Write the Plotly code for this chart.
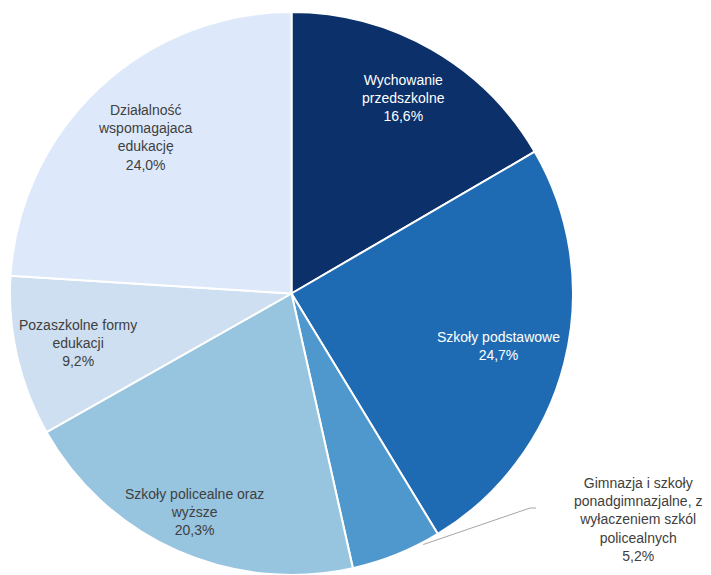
import math
import plotly.graph_objects as go

labels = ["Wychowanie<br>przedszkolne", "Szkoły podstawowe",
          "Gimnazja i szkoły<br>ponadgimnazjalne, z<br>wyłaczeniem szkól<br>policealnych",
          "Szkoły policealne oraz<br>wyższe", "Pozaszkolne formy<br>edukacji",
          "Działalność<br>wspomagajaca<br>edukację"]
values = [16.6, 24.7, 5.2, 20.3, 9.2, 24.0]
colors = ["#0b306a", "#1f6bb3", "#4f98cd", "#97c4df", "#cddff0", "#dde9fb"]
text_colors = ["white", "white", "#404040", "#404040", "#404040", "#404040"]

# label placement (radius fraction per slice; None -> outside label)
label_radius = [0.80, 0.76, None, 0.85, 0.78, 0.76]

OFF = 8  # page body margin
W, H = 711 - OFF, 575 - OFF
x0, x1 = 10 - OFF, 573 - OFF
y_top = 12 - OFF
R = (x1 - x0) / 2
cx = (x0 + x1) / 2
cy = y_top + R

fig = go.Figure(go.Pie(
    values=values, labels=labels, sort=False, direction="clockwise", rotation=0,
    marker=dict(colors=colors, line=dict(color="white", width=2)),
    textinfo="none", hoverinfo="label+percent", showlegend=False,
    domain=dict(x=[x0 / W, x1 / W], y=[(H - y_top - 2 * R) / H, 1 - y_top / H]),
))

def fmt(v):
    return f"{v:.1f}".replace(".", ",") + "%"

def px(x, y):
    return (x - OFF) / W, 1 - (y - OFF) / H

total = sum(values)
cum = 0
annotations = []
shapes = []
font_family = "Liberation Sans"
for i, v in enumerate(values):
    mid = (cum + v / 2) / total * 2 * math.pi
    cum += v
    txt = labels[i] + "<br>" + fmt(v)
    if label_radius[i] is None:
        lx, ly = px(638, 519)
        annotations.append(dict(x=lx, y=ly, xref="paper", yref="paper",
                                xanchor="center", yanchor="middle",
                                text=txt, showarrow=False, align="center",
                                font=dict(color=text_colors[i], size=14, family=font_family)))
        a = mid - 0.1
        sx = cx + (R + 2) * math.sin(a)
        sy = cy - (R + 2) * math.cos(a)
        ex, ey = px(530, 508)
        fx, fy = px(536, 508)
        shapes.append(dict(type="path", xref="paper", yref="paper",
                           path=f"M {sx / W} {1 - sy / H} L {ex} {ey} L {fx} {fy}",
                           line=dict(color="#a6a6a6", width=1)))
    else:
        r = label_radius[i] * R
        lx = cx + r * math.sin(mid)
        ly = cy - r * math.cos(mid)
        annotations.append(dict(x=lx / W, y=1 - ly / H, xref="paper", yref="paper",
                                xanchor="center", yanchor="middle",
                                text=txt, showarrow=False, align="center",
                                font=dict(color=text_colors[i], size=14, family=font_family)))

fig.update_layout(width=W, height=H, margin=dict(l=0, r=0, t=0, b=0),
                  paper_bgcolor="white", plot_bgcolor="white",
                  annotations=annotations, shapes=shapes)
fig.write_html("out.html")
